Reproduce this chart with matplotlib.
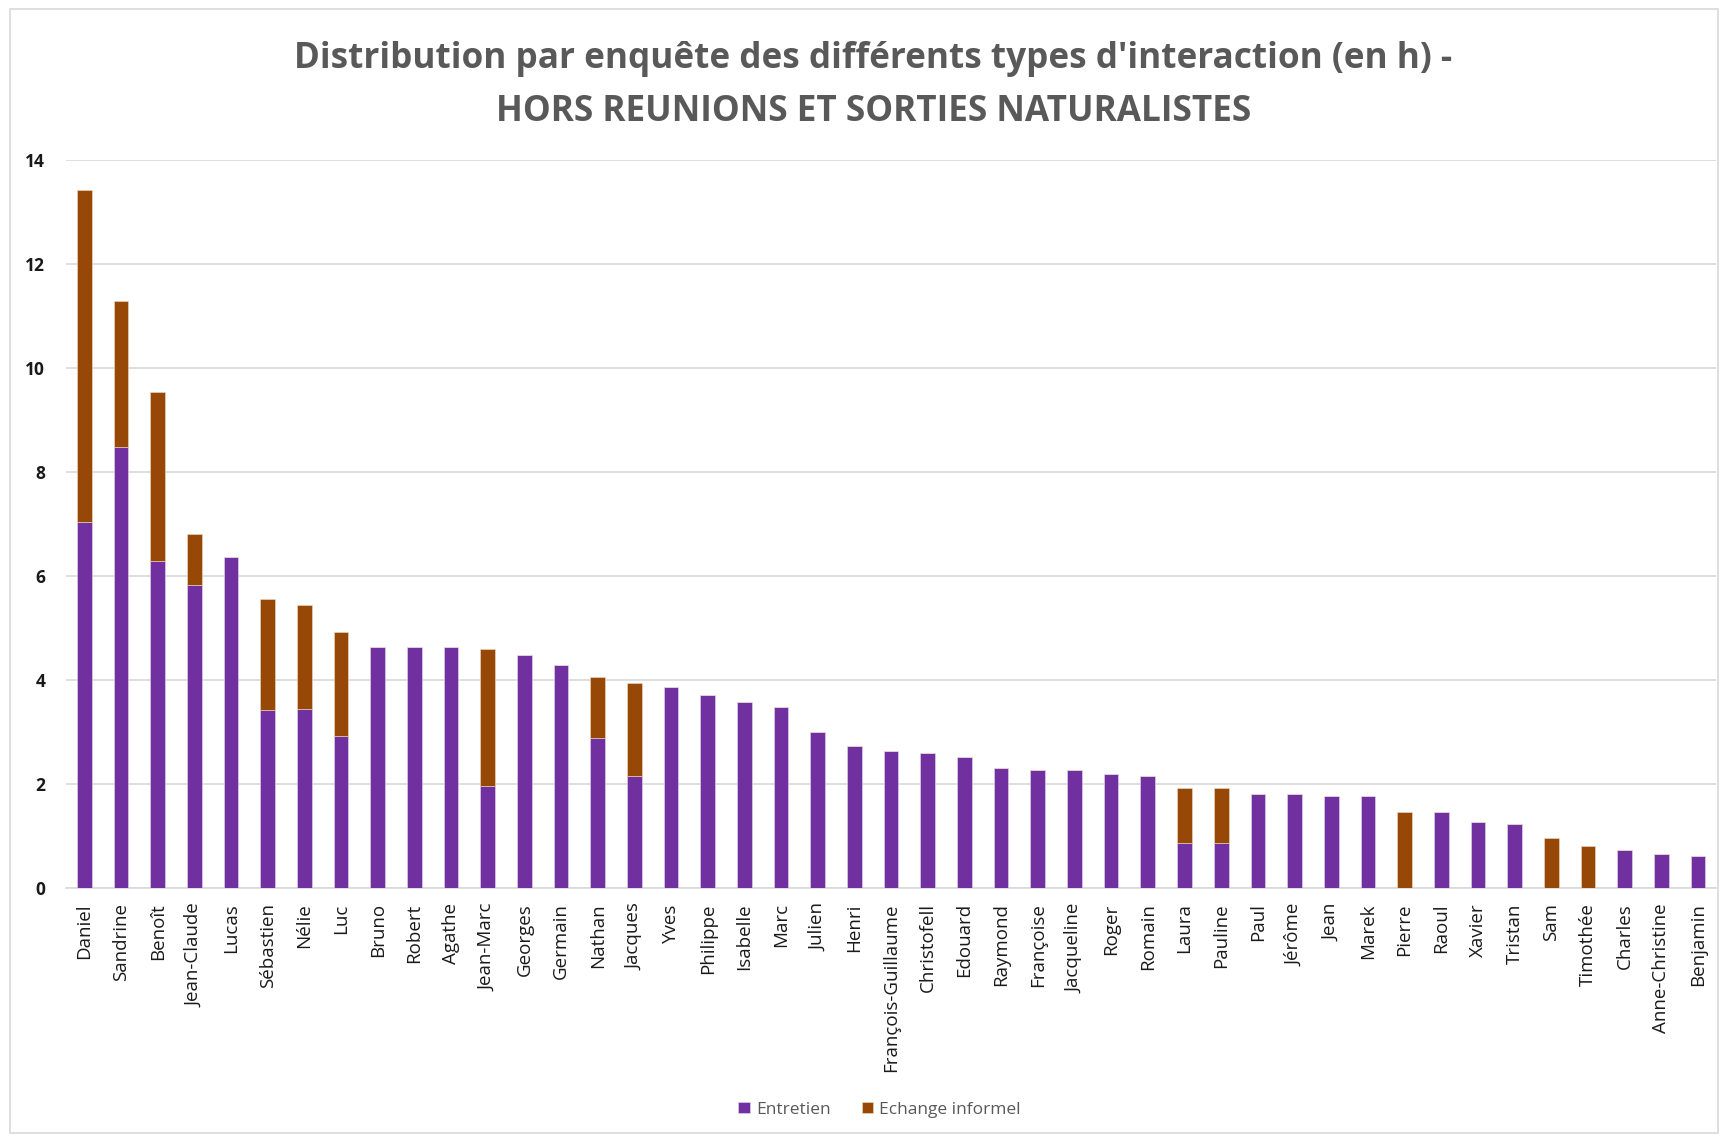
import matplotlib
matplotlib.use("Agg")
from matplotlib import pyplot as plt
from matplotlib.patches import Rectangle
import numpy as np

plt.rcParams["font.family"] = ["Open Sans", "DejaVu Sans"]

noms = ["Daniel", "Sandrine", "Benoît", "Jean-Claude", "Lucas", "Sébastien", "Nélie", "Luc",
        "Bruno", "Robert", "Agathe", "Jean-Marc", "Georges", "Germain", "Nathan", "Jacques",
        "Yves", "Philippe", "Isabelle", "Marc", "Julien", "Henri", "François-Guillaume",
        "Christofell", "Edouard", "Raymond", "Françoise", "Jacqueline", "Roger", "Romain",
        "Laura", "Pauline", "Paul", "Jérôme", "Jean", "Marek", "Pierre", "Raoul", "Xavier",
        "Tristan", "Sam", "Timothée", "Charles", "Anne-Christine", "Benjamin"]

entretien = [7.04, 8.49, 6.28, 5.83, 6.36, 3.42, 3.45, 2.92,
             4.64, 4.64, 4.64, 1.96, 4.48, 4.29, 2.88, 2.16,
             3.87, 3.72, 3.57, 3.49, 3.00, 2.73, 2.64,
             2.60, 2.52, 2.30, 2.26, 2.26, 2.19, 2.15,
             0.86, 0.86, 1.81, 1.81, 1.77, 1.77, 0.0, 1.46, 1.27,
             1.23, 0.0, 0.0, 0.73, 0.65, 0.61]

echange = [6.39, 2.79, 3.25, 0.98, 0.0, 2.13, 1.99, 2.01,
           0.0, 0.0, 0.0, 2.64, 0.0, 0.0, 1.18, 1.79,
           0.0, 0.0, 0.0, 0.0, 0.0, 0.0, 0.0,
           0.0, 0.0, 0.0, 0.0, 0.0, 0.0, 0.0,
           1.06, 1.06, 0.0, 0.0, 0.0, 0.0, 1.46, 0.0, 0.0,
           0.0, 0.96, 0.80, 0.0, 0.0, 0.0]

violet = "#7030A0"
marron = "#974706"

fig = plt.figure(figsize=(17.28, 11.38), dpi=100)
ax = fig.add_axes([0.0382, 0.2197, 0.955, 0.6397])

x = np.arange(len(noms))
ax.bar(x, entretien, width=0.4, color=violet, edgecolor="#e6d9f0", linewidth=0.4, label="Entretien", zorder=3)
ax.bar(x, echange, width=0.4, bottom=entretien, color=marron, edgecolor="#f0dcc8", linewidth=0.4,
       label="Echange informel", zorder=3)

ax.set_xlim(-0.5, len(noms) - 0.5)
ax.set_ylim(0, 14)
ax.set_yticks(range(0, 15, 2))
ax.set_xticks(x)
ax.set_xticklabels(noms, rotation=90, fontsize=13.5, color="#1a1a1a")
ax.tick_params(axis="y", labelsize=12.5, labelcolor="#1a1a1a", length=0, pad=15)
ax.tick_params(axis="x", length=0, pad=11)
for lab in ax.get_yticklabels():
    lab.set_fontweight("bold")

ax.grid(axis="y", color="#d9d9d9", linewidth=1.2, zorder=0)
for s in ["top", "right", "left"]:
    ax.spines[s].set_visible(False)
ax.spines["bottom"].set_color("#d9d9d9")
ax.spines["bottom"].set_linewidth(1.2)

fig.text(0.5055, 0.948, "Distribution par enquête des différents types d'interaction (en h) -",
         ha="center", va="center", fontsize=25.3, fontweight="bold", color="#595959")
fig.text(0.5055, 0.902, "HORS REUNIONS ET SORTIES NATURALISTES",
         ha="center", va="center", fontsize=25.3, fontweight="bold", color="#595959")

fig.legend(loc="center", bbox_to_anchor=(0.509, 0.025), ncol=2, frameon=False, fontsize=12.5,
           labelcolor="#595959", handlelength=0.65, handleheight=0.65, handletextpad=0.35,
           columnspacing=1.8)

fig.patches.append(Rectangle((0.006, 0.004), 0.988, 0.988, transform=fig.transFigure,
                             fill=False, edgecolor="#d9d9d9", linewidth=1.2))

fig.savefig("out.png", dpi=100)
